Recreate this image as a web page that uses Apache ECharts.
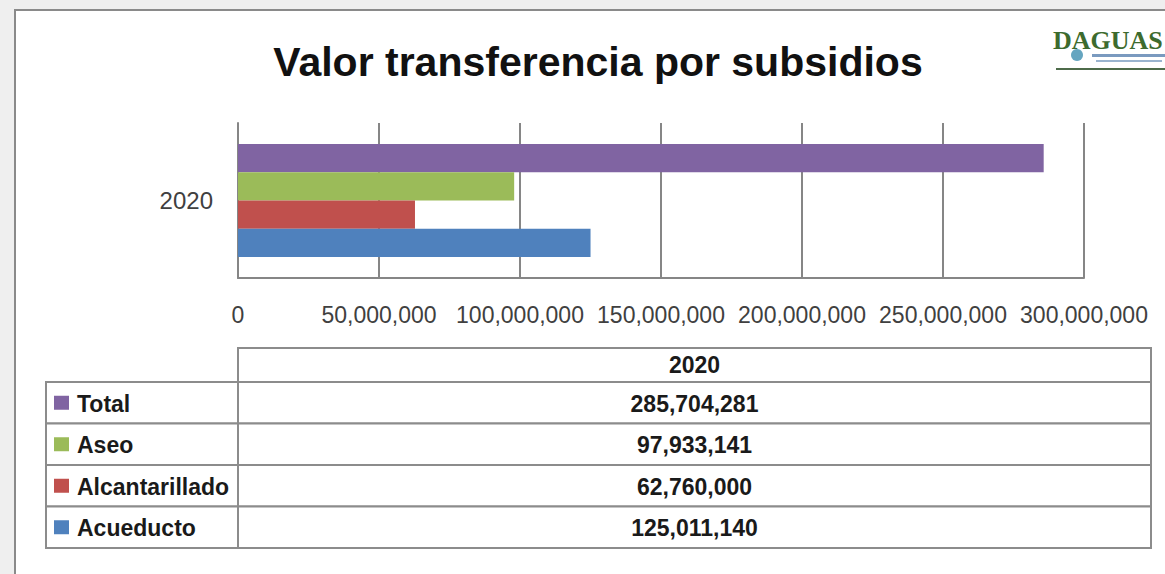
<!DOCTYPE html>
<html lang="es">
  <head>
    <meta charset="UTF-8" />
    <title>Valor transferencia por subsidios</title>
    <script src="https://cdn.jsdelivr.net/npm/echarts@6/dist/echarts.min.js"></script>
    <style>
      html, body { margin: 0; padding: 0; }
      #app { width: 1165px; height: 574px; }
    </style>
  </head>
  <body>
    <div id="app"></div>
    <script>
      // datos
      const categories = ["2020"];
      const seriesNames = ["Total", "Aseo", "Alcantarillado", "Acueducto"];
      const seriesValues = [285704281, 97933141, 62760000, 125011140];
      const seriesColors = ["#8064A2", "#9BBB59", "#C0504D", "#4F81BD"];

      const fmt = (v) => Number(v).toLocaleString("en-US");
      const font = "Liberation Sans";

      // tabla de datos bajo el eje
      const tbl = { left: 46, col: 238, right: 1151, top: 348, headH: 34, rowH: 41.5 };
      const lineStyle = { stroke: "#8c8c8c", lineWidth: 2 };
      const tableEls = [];
      const bodyTop = tbl.top + tbl.headH;
      const bodyBottom = bodyTop + tbl.rowH * seriesNames.length;

      // cabecera
      tableEls.push({
        type: "rect",
        shape: { x: tbl.col, y: tbl.top, width: tbl.right - tbl.col, height: tbl.headH },
        style: { fill: "#fff", ...lineStyle },
      });
      tableEls.push({
        type: "text",
        x: (tbl.col + tbl.right) / 2,
        y: tbl.top + tbl.headH / 2,
        style: {
          text: categories[0], fontFamily: font, fontWeight: "bold", fontSize: 23,
          fill: "#1a1a1a", align: "center", verticalAlign: "middle",
        },
      });
      seriesNames.forEach((name, i) => {
        const y = bodyTop + i * tbl.rowH;
        tableEls.push({
          type: "rect",
          shape: { x: tbl.left, y: y, width: tbl.right - tbl.left, height: tbl.rowH },
          style: { fill: "#fff", ...lineStyle },
        });
        tableEls.push({
          type: "rect",
          shape: { x: 54, y: y + tbl.rowH / 2 - 7, width: 15, height: 14 },
          style: { fill: seriesColors[i] },
        });
        tableEls.push({
          type: "text",
          x: 77,
          y: y + tbl.rowH / 2 + 1,
          style: {
            text: name, fontFamily: font, fontWeight: "bold", fontSize: 23,
            fill: "#1a1a1a", align: "left", verticalAlign: "middle",
          },
        });
        tableEls.push({
          type: "text",
          x: (tbl.col + tbl.right) / 2,
          y: y + tbl.rowH / 2 + 1,
          style: {
            text: fmt(seriesValues[i]), fontFamily: font, fontWeight: "bold", fontSize: 23,
            fill: "#1a1a1a", align: "center", verticalAlign: "middle",
          },
        });
      });
      tableEls.push({
        type: "line",
        shape: { x1: tbl.col, y1: tbl.top, x2: tbl.col, y2: bodyBottom },
        style: lineStyle,
      });

      const chart = echarts.init(document.getElementById("app"), null, { renderer: "svg" });

      chart.setOption({
        backgroundColor: "#efefef",
        animation: false,
        grid: { left: 238, right: 81, top: 123, bottom: 296, containLabel: false },
        xAxis: {
          type: "value",
          min: 0,
          max: 300000000,
          interval: 50000000,
          axisLine: { show: true, lineStyle: { color: "#868686", width: 2 } },
          axisTick: { show: false },
          splitLine: { show: true, lineStyle: { color: "#868686", width: 2 } },
          axisLabel: {
            margin: 25,
            fontFamily: font,
            fontSize: 23,
            color: "#404040",
            formatter: (v) => fmt(v),
          },
        },
        yAxis: {
          type: "category",
          data: categories,
          axisLine: { show: true, lineStyle: { color: "#868686", width: 2 } },
          axisTick: { show: false },
          axisLabel: { margin: 25, fontFamily: font, fontSize: 24, color: "#404040" },
        },
        series: seriesNames.map((name, i) => ({
          name: name,
          type: "bar",
          data: [seriesValues[i]],
          barGap: "0%",
          barCategoryGap: "27%",
          itemStyle: { color: seriesColors[i] },
        })),
        graphic: [
          // marco blanco del grafico
          {
            type: "rect",
            z: -10,
            shape: { x: 15, y: 10, width: 1200, height: 620 },
            style: { fill: "#fff", stroke: "#8a8a8a", lineWidth: 2 },
          },
          {
            type: "text",
            x: 598,
            y: 62,
            style: {
              text: "Valor transferencia por subsidios",
              fontFamily: font, fontWeight: "bold", fontSize: 41,
              fill: "#111", align: "center", verticalAlign: "middle",
            },
          },
          // logo
          {
            type: "group",
            children: [
              {
                type: "text", x: 1053, y: 27,
                style: {
                  text: "DAGUAS", fontFamily: "Liberation Serif", fontWeight: "bold",
                  fontSize: 26, fill: "#3d6b2e", align: "left", verticalAlign: "top",
                },
              },
              { type: "circle", shape: { cx: 1077, cy: 55, r: 6 }, style: { fill: "#3f8fb0", opacity: 0.8 } },
              { type: "rect", shape: { x: 1092, y: 54, width: 73, height: 3 }, style: { fill: "#7a9abf" } },
              { type: "rect", shape: { x: 1096, y: 60, width: 66, height: 2 }, style: { fill: "#9ab4cf" } },
              { type: "rect", shape: { x: 1056, y: 68, width: 109, height: 2 }, style: { fill: "#4d6b4a" } },
            ],
          },
          ...tableEls,
        ],
      });
    </script>
  </body>
</html>
